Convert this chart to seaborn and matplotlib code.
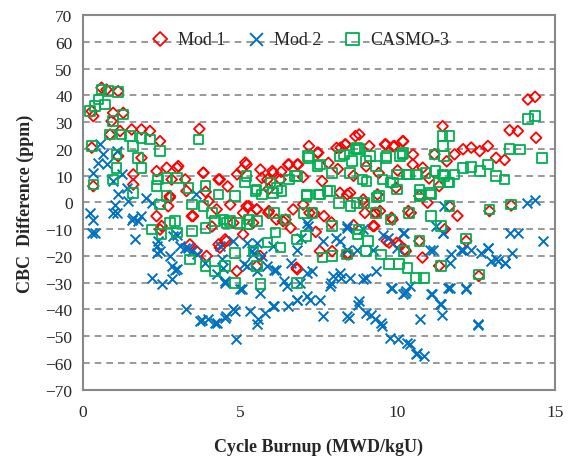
import numpy as np
import pandas as pd
import seaborn as sns
import matplotlib.pyplot as plt

# Значения (x - выгорание, y - разница CBC)
mod1_x = [0.59, 0.75, 1.12, 0.33, 0.28, 0.96, 1.28, 0.91, 0.86, 1.18, 1.55, 1.86, 2.13, 2.45, 0.28,
          1.12, 1.86, 2.34, 2.66, 2.82, 1.6, 2.76, 0.33, 1.6, 2.5, 2.34, 2.71,
          3.70, 2.99, 3.83, 4.31, 5.16, 5.05, 5.64, 3.46, 4.52, 4.31, 4.89, 5.27, 5.53, 3.25, 3.99, 4.68,
          7.18, 7.45, 6.55, 6.02, 6.81, 8.19, 8.35, 8.66, 5.86, 6.28, 5.91, 6.44, 6.81, 7.66, 8.4, 8.45,
          7.92, 7.34,
          8.78, 9.1, 9.63, 9.9, 10.16, 11.43, 11.17, 10.48, 9.36, 8.94, 9.31, 9.84, 10.42, 10.95, 10.69,
          9.26, 9.73, 10.05, 10.26, 10.79, 11.32, 10.69, 11.32, 9.95,
          14.14, 14.37, 13.56, 13.82, 14.4, 11.81, 12.08, 12.34, 12.61, 12.87, 13.13, 13.4, 11.65, 12.92,
          13.61, 12.18, 12.58,
          3.82, 4.35, 5.2, 2.76, 3.29, 3.03,
          7.48, 8.33, 9.6, 10.18, 9.86, 6.52, 6.05, 6.84, 5.68, 7.8, 8.06, 10.49, 11.56,
          5.2, 5.52, 5.89, 6.15, 6.36, 6.68, 7.0, 7.2, 8.17, 8.49, 8.91, 9.44, 9.81, 9.22, 9.65, 9.97,
          10.23, 7.53, 8.38, 6.79, 5.52, 8.96, 9.28, 10.34, 5.09, 5.63,
          3.5, 4.25, 4.56, 4.35, 3.93, 3.61, 3.4, 4.78, 5.09, 5.41, 2.45,
          7.0, 7.6, 8.1, 8.6, 9.0, 9.4, 10.0, 10.8, 11.0, 6.6, 7.4, 7.9, 8.6, 11.5, 11.9,
          4.6, 4.9, 5.9, 6.3, 3.9, 4.1]
mod1_y = [42.9, 42.2, 41.6, 32.3, 34.1, 33.5, 33.5, 30.4, 25.4, 26.7, 27.3, 27.3, 26.7, 22.9, 20.5,
          17.3, 16.7, 11.7, 13.0, 8.6, 10.5, 2.4, 6.1, 6.7, -8.8, -5.1, -1.4,
          27.5, 12.9, 11.1, 8.6, 14.9, 12.3, 12.3, -5.1, -13.8, -15.7, -25.7, -1.4, -2.6, 8.6, 0.5, -0.8,
          21.1, 18.6, 14.2, 11.8, 14.2, 20.5, 21.7, 24.8, 8.6, 8.6, -3.2, -6.4, -25.0, -5.1, 3.0, -19.4,
          -18.2, -3.9,
          25.4, 21.1, 21.7, 21.1, 22.9, 28.5, 18.0, 14.2, 3.0, -0.1, -3.9, -6.4, -3.9, -0.1, 2.4,
          -8.8, -15.0, -15.7, -18.2, -20.6, -23.7, -14.4, 6.1, 5.5,
          38.5, 39.5, 27.0, 26.7, 24.2, 18.0, 19.9, 20.5, 19.2, 21.1, 16.7, 15.9, -1.4, -3.2,
          -1.1, -14.4, -27.5,
          11.1, 8.6, 14.2, 1.8, 4.3, 13.6,
          18.6, 21.7, 21.7, 22.9, 21.0, 14.2, 11.1, 14.2, 9.2, 14.8, 20.4, 17.9, 15.4,
          -1.4, -2.6, -3.9, -6.4, -7.0, -2.6, -0.8, -3.9, 3.6, 3.6, 1.1, -3.2, -5.7, -8.8, -14.4, -15.1,
          -17.6, -18.2, -19.4, -24.4, -23.8, -3.9, -3.9, -3.2, -11.9, -20.0,
          -5.1, -2.6, -14.4, -16.9, -20.0, -18.2, -15.7, -7.6, -3.9, -7.6, -10.1,
          9.5, 8.0, 12.5, 10.0, 13.5, 11.0, 12.0, 13.0, 9.0, -9.5, -11.0, -7.5, -8.5, -10.0, -5.0,
          6.0, 10.5, 5.0, 11.5, 4.0, -9.0]

mod2_x = [0.33, 0.22, 0.33, 0.38, 0.54, 0.65, 0.49, 0.75, 1.07, 0.96, 1.23, 1.12, 1.39, 1.02, 1.07,
          1.44, 1.55, 1.76, 1.86, 1.65, 2.02, 2.18, 2.34, 2.39, 2.34, 2.76, 2.82, 2.18, 2.5, 2.82,
          3.29, 3.72, 4.25, 4.56, 4.88, 4.83, 5.3, 5.52, 3.98, 2.98, 3.35, 3.61, 4.25, 4.51, 5.04, 5.2,
          5.52, 4.46, 3.08, 2.45, 0.96, 1.6, 2.87, 4.35, 4.78, 0.28,
          7.16, 8.38, 9.54, 10.18, 5.2, 6.05, 6.79, 5.41, 7.64, 8.17, 8.38, 8.7, 9.22, 9.97, 6.15, 7.11,
          8.17, 8.49, 8.91, 9.81, 10.23, 5.63, 5.57, 5.78, 6.05, 6.52, 6.79, 7.11, 7.53, 7.64, 8.38,
          8.75, 9.01, 9.28, 9.49, 9.76, 10.02, 10.39, 10.6, 6.47, 6.89, 7.96, 7.85, 4.99,
          14.1, 14.36, 13.56, 13.83, 14.62, 11.03, 11.45, 12.08, 12.88, 13.14, 13.41, 13.62, 11.66,
          10.39, 10.18, 11.08, 11.6, 12.18, 11.35, 11.4, 10.71, 12.56, 10.84,
          7.13, 6.92, 8.03, 8.4, 6.07, 6.6, 6.39, 7.29, 7.87, 8.19, 5.86, 8.45, 6.07, 6.81, 7.23,
          8.89, 9.68, 10.2, 11.22, 11.48, 11.11, 11.43, 9.0, 9.31, 9.78, 10.26, 11.06, 11.38, 8.78,
          9.15, 9.47, 10.31, 10.63,
          11.71, 12.03, 12.34, 12.66, 12.87, 12.98, 13.19, 13.4, 11.65, 12.18, 12.57,
          2.99, 3.25, 3.6, 2.93, 3.46, 3.89, 4.41, 4.52, 5.11, 5.37, 5.69, 5.53, 3.78, 4.2, 4.52, 4.78]
mod2_y = [11.1, -3.9, -6.4, -11.3, 21.7, 18.0, 14.9, 14.2, 19.3, 8.0, 10.5, 3.0, 5.5, -0.8, -3.9,
          0.5, -6.4, -7.0, -5.1, -13.8, 1.8, -0.1, -16.3, -14.4, -18.8, -20.0, -23.8, -28.2, -30.6, -28.8,
          -40.0, -44.4, -45.0, -42.5, -51.2, -40.6, -40.6, -45.6, -43.7, -25.0, -16.9, -19.4, -26.9, -29.4,
          -32.5, -23.8, -25.7, -24.4, -16.3, -18.2, -3.9, -5.7, -12.6, -16.3, -14.4, -11.3,
          -8.8, -9.5, -12.0, -11.3, -15.1, -16.3, -17.6, -19.4, -14.4, -14.4, -17.6, -17.6, -17.6, -16.9,
          -25.1, -26.3, -26.3, -28.2, -28.8, -31.9, -33.8, -33.8, -43.7, -41.3, -38.8, -38.8, -36.3,
          -35.0, -36.3, -42.5, -42.5, -38.2, -41.3, -43.7, -46.2, -50.6, -51.2, -53.1, -56.8, -31.3,
          -30.0, -27.5, -31.3, -32.5,
          -0.1, 0.9, -11.3, -11.3, -14.5, -17.6, -11.3, -17.6, -16.9, -21.3, -22.6, -18.8, -22.6,
          -31.3, -34.4, -34.4, -31.9, -31.9, -38.1, -41.9, -43.7, -45.6, -57.4,
          -7.6, -13.2, -13.2, -8.8, -25.1, -22.6, -29.4, -25.6, -30.0, -28.2, -23.8, -43.1, -38.8,
          -36.3, -36.3,
          -10.1, -13.2, -11.3, -8.8, -1.4, -17.6, -11.3, -28.2, -25.7, -31.9, -33.2, -34.4, -38.1, -36.9,
          -41.9, -45.0, -52.4, -56.2,
          -19.4, -17.6, -17.6, -18.8, -16.9, -21.9, -21.9, -22.5, -31.9, -32.5, -45.9,
          -12.0, -16.9, 3.0, -25.1, -18.2, -22.5, -21.3, -30.0, -23.1, -18.2, -20.0, -15.0, -43.8,
          -45.0, -43.1, -40.0]

casmo_x = [0.59, 0.81, 1.12, 0.49, 0.38, 0.22, 0.7, 1.28, 0.96, 0.86, 1.23, 1.49, 1.86, 2.13, 2.45,
           1.6, 0.28, 1.07, 1.76, 1.86, 1.07, 0.96, 0.33, 1.6, 2.39, 2.66, 2.34, 2.66, 2.45, 2.18, 2.5,
           2.76, 3.67,
           2.99, 3.36, 3.89, 4.31, 4.84, 5.16, 5.48, 5.69, 3.46, 3.83, 4.10, 4.47, 4.57, 5.0, 5.27, 5.53,
           2.93, 2.99, 3.46, 3.89, 3.41, 3.89, 4.20, 4.52, 4.84, 4.84, 5.42, 5.53, 5.64, 5.21, 4.68, 4.20,
           7.18, 7.45, 7.92, 8.29, 8.56, 8.66, 6.81, 6.55, 5.96, 6.17, 7.13, 7.5, 7.77, 8.14, 8.5, 6.07,
           7.02, 7.29, 7.92, 6.12, 6.81, 7.08, 6.28, 7.61, 7.92, 8.4, 6.81, 8.72, 6.44, 5.86,
           11.43, 8.78, 9.63, 10.16, 11.17, 11.48, 8.99, 9.31, 8.89, 9.52, 9.99, 10.37, 10.62, 10.89,
           11.2, 11.48, 9.78, 11.32, 9.99, 9.41, 10.69, 11.06, 8.94, 9.31, 9.78, 10.37, 11.06, 11.38,
           8.78, 9.05, 8.99, 9.47, 9.73, 10.05, 10.31, 10.58, 10.84, 10.2, 10.69, 11.38,
           14.14, 14.37, 13.56, 13.88, 14.59, 11.81, 12.08, 12.34, 12.61, 12.87, 13.13, 13.4, 11.65,
           12.92, 13.61, 12.18, 12.58, 11.65, 11.65,
           7.16, 7.53, 8.17, 8.7, 9.12, 9.65, 10.18, 5.2, 5.52, 6.05, 6.31, 6.73, 7.1, 7.53, 7.85, 8.48,
           9.01, 9.33, 9.86, 8.7, 10.7,
           11.45, 10.07, 10.71, 11.03, 11.45, 11.6, 10.28]
casmo_y = [42.2, 41.6, 41.2, 38.5, 36.0, 34.1, 36.6, 32.9, 30.4, 25.4, 25.4, 24.8, 24.2, 23.6, 19.3,
           21.1, 21.1, 18.0, 16.7, 13.0, 13.0, 8.6, 6.7, 3.6, 8.6, 9.2, 6.1, 2.4, -0.8, -10.1, -11.9,
           -7.6, 23.6,
           9.2, 5.5, 6.1, 3.0, 2.4, 7.4, 4.3, 3.0, -0.8, -1.4, -3.9, -6.4, -7.6, -7.6, -6.4, -7.0,
           -7.0, -11.3, -10.7, -9.5, -21.3, -23.8, -25.6, -23.8, -18.8, -30.0, -18.2, -23.8, -30.6, -8.2,
           -7.0, -7.0,
           16.7, 13.6, 11.1, 18.0, 15.5, 19.8, 9.8, 8.6, 7.4, 5.5, 3.0, 3.0, 4.3, -0.1, -1.4, -3.9,
           -3.9, -3.9, -8.8, -11.3, -13.8, -12.6, -16.9, -20.6, -20.0, -19.4, -30.0, -12.0, -6.4, -15.0,
           24.8, 19.9, 16.7, 18.0, 18.0, 17.4, 15.5, 13.6, 8.6, 8.6, 10.5, 10.5, 10.5, 11.1,
           11.7, 9.8, 7.4, 7.4, 4.9, 2.4, 2.4, 3.0, -0.1, -3.9, -6.4, -3.9, -5.1, -8.8,
           -10.1, -14.4, -18.2, -19.4, -23.1, -23.1, -24.4, -28.2, -28.2, -18.2, -14.4, -23.7,
           31.3, 32.3, 20.1, 19.8, 16.7, 10.5, 13.0, 13.3, 11.7, 14.2, 9.8, 8.6, -1.4,
           -2.6, -0.8, -13.5, -26.9, 7.4, 24.8,
           17.4, 14.2, 17.4, 20.4, 17.4, 17.4, 18.6, 9.8, 4.9, 3.6, 4.3, 9.8, 2.4, 3.0, 4.3, 11.1,
           7.9, 1.8, 7.4, -0.1, 4.9,
           21.0, 17.4, 3.0, 3.6, 10.5, 7.4, 10.5]

sns.set_style("white")
plt.rcParams['font.family'] = ['Liberation Serif', 'DejaVu Serif']

fig = plt.figure(figsize=(5.68, 4.64), dpi=100)
ax = fig.add_axes([0.146, 0.158, 0.831, 0.807])

sns.scatterplot(x=mod1_x, y=mod1_y, ax=ax, marker='D', s=30, color='#FF0000',
                facecolor='none', edgecolor='#FF0000', linewidth=1.3, label='Mod 1', zorder=3)
sns.scatterplot(x=mod2_x, y=mod2_y, ax=ax, marker='x', s=50, color='#0070C0',
                linewidth=1.4, label='Mod 2', zorder=3)
sns.scatterplot(x=casmo_x, y=casmo_y, ax=ax, marker='s', s=48, color='#00B050',
                facecolor='none', edgecolor='#00B050', linewidth=1.3, label='CASMO-3', zorder=3)

ax.set_xlim(0, 15)
ax.set_ylim(-70, 70)
ax.set_xticks([0, 5, 10, 15])
ax.set_xticks(np.arange(0, 16, 1), minor=True)
ax.set_yticks(np.arange(-70, 71, 10))
ax.yaxis.grid(True, color='#888888', linestyle=(0, (4, 3)), linewidth=1.2)
ax.set_axisbelow(True)
for sp in ax.spines.values():
    sp.set_color('#888888')
    sp.set_linewidth(1.5)
ax.tick_params(axis='x', which='both', direction='inout', length=6, color='#888888',
               width=1.2, labelsize=12.5, pad=7)
ax.tick_params(axis='x', which='minor', length=4)
ax.tick_params(axis='y', direction='out', length=4, color='#888888', width=1.2, labelsize=12.5)

ax.set_xlabel('Cycle Burnup (MWD/kgU)', fontsize=13, fontweight='bold', labelpad=13)
ax.set_ylabel('CBC  Difference (ppm)', fontsize=13, fontweight='bold', labelpad=8)

ax.legend(loc='center', bbox_to_anchor=(0.451, 0.936), ncol=3, frameon=False, fontsize=13,
          markerscale=1.3, handletextpad=0.0, columnspacing=0.7, borderpad=0.2)

plt.savefig('out.png', dpi=100)
